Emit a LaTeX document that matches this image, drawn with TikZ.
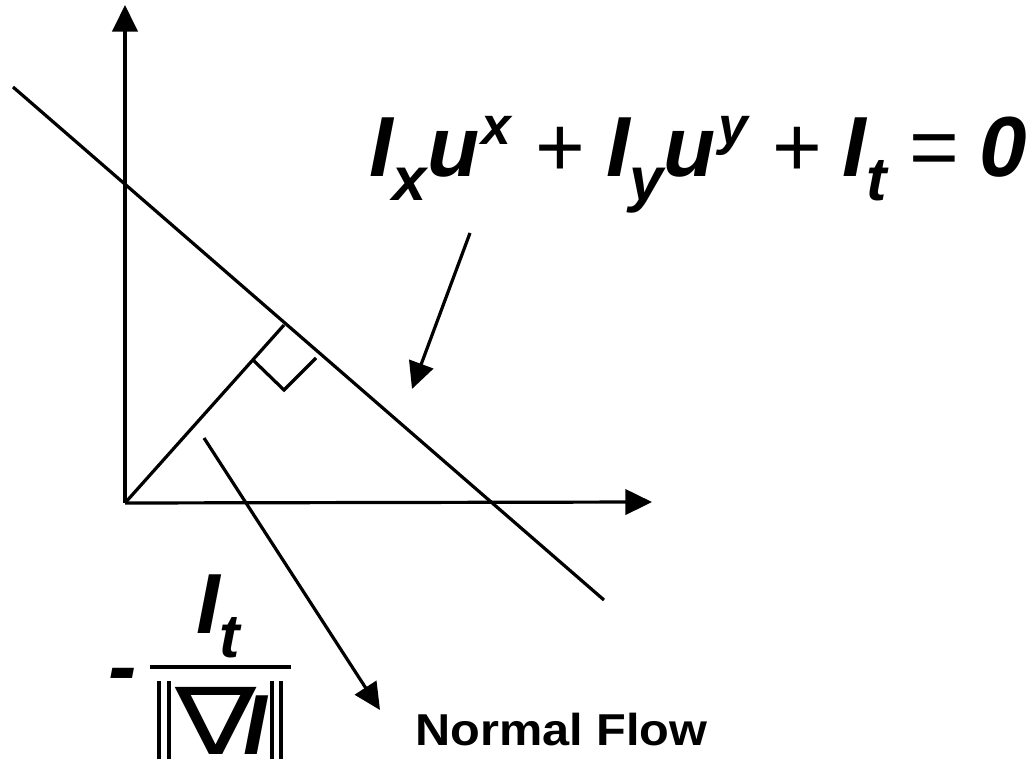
\documentclass[tikz,border=0pt]{standalone}
\usepackage{fontspec}
\setmainfont{Liberation Sans}
\newfontfamily\nabfont{DejaVu Sans}
\usetikzlibrary{arrows.meta}
\newcommand\lowsub[1]{\raisebox{-18pt}{\fontsize{46}{46}\selectfont #1}}
\newcommand\highsup[1]{\raisebox{24pt}{\fontsize{40}{40}\selectfont #1}}
\newcommand\opsym[1]{{\normalfont\fontsize{64}{64}\selectfont #1}}
\newcommand\dbar{\rule[-4pt]{3pt}{59pt}\hspace{4pt}\rule[-4pt]{3pt}{59pt}}
\tikzset{
  ln/.style={line width=2.4pt, line cap=butt},
  arr/.style={ln, -{Triangle[length=20pt,width=19pt]}},
  big/.style={inner sep=0pt, font=\fontsize{64}{64}\selectfont\bfseries\itshape},
  lbl/.style={inner sep=0pt, font=\fontsize{33.5}{33.5}\selectfont\bfseries}
}
\begin{document}
\begin{tikzpicture}[x=0.75pt,y=-0.75pt]
\useasboundingbox (0,0) rectangle (1033,763);
% axes
\coordinate (O) at (125,503);
\coordinate (Ytip) at (125,5);
\coordinate (Xtip) at (652,502);
\draw[arr] (O) -- (Ytip);
\draw[arr] (O) -- (Xtip);
% constraint line
\coordinate (L1) at (13,87);
\coordinate (L2) at (604,600);
\draw[ln] (L1) -- (L2);
% normal
\coordinate (F) at (284,325);
\draw[ln] (O) -- (F);
% right angle mark
\coordinate (RA) at (253,360);
\coordinate (RB) at (284,390);
\coordinate (RC) at (316,358);
\draw[ln] (RA) -- (RB) -- (RC);
% equation
\node[big, anchor=base west] (eq) at (369,177)
  {I\lowsub{x}u\kern2pt\highsup{x}\hspace{18pt}\opsym{+}\hspace{15.5pt}I\lowsub{y}u\kern2pt\highsup{y}\hspace{18pt}\opsym{+}\hspace{15.5pt}I\lowsub{t}\hspace{17pt}\opsym{=}\hspace{15pt}0};
\coordinate (A1s) at (470,233);
\coordinate (A1t) at (412,389);
\draw[arr] (A1s) -- (A1t);
% fraction label
\node[big, anchor=base west] (minus) at (108,695) {-};
\node[big, anchor=base west] (num) at (196,633) {I\lowsub{t}};
\coordinate (B1) at (150,667);
\coordinate (B2) at (291,667);
\draw[line width=3pt] (B1) -- (B2);
\node[big, anchor=base west] (den) at (157,754) {\dbar\hspace{4pt}{\nabfont\mdseries\upshape\fontsize{70}{70}\selectfont\scalebox{1.3}[1]{∇}}\kern-10pt I\hspace{2pt}\dbar};
\coordinate (A2s) at (204,438);
\coordinate (A2t) at (380,710);
\draw[arr] (A2s) -- (A2t);
\node[lbl, anchor=base west] (nf) at (415,745) {\scalebox{1.09}[1]{Normal Flow}};
\end{tikzpicture}
\end{document}
